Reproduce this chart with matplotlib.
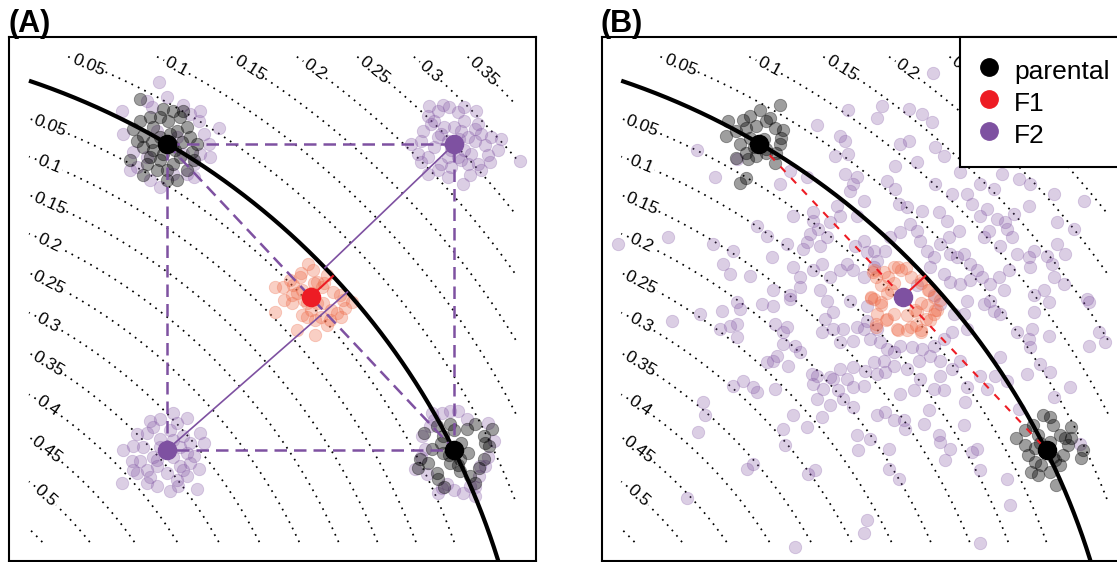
import numpy as np
import matplotlib.pyplot as plt
from matplotlib.lines import Line2D

plt.rcParams['font.family'] = ['Liberation Sans', 'DejaVu Sans']

# trait space (both traits run from 0 to 1460 in these units)
trait_max = 1460
centre = (-707, -707)      # centre of the optimum front
radius = 2211              # radius of the optimum front (black arc)
load_scale = 2150          # distance per unit of load for the contours
levels = [0.05, 0.1, 0.15, 0.2, 0.25, 0.3, 0.35, 0.4, 0.45, 0.5, 0.55]
inner_labels = [0.05, 0.1, 0.15, 0.2, 0.25, 0.3, 0.35, 0.4, 0.45, 0.5]
outer_labels = [0.05, 0.1, 0.15, 0.2, 0.25, 0.3, 0.35]

parent1 = (413, 1198)
parent2 = (1275, 277)
recomb1 = (1275, 1198)
recomb2 = (413, 277)
hybrid_mean = (844, 738)

purple = '#7E51A1'
red = '#ED1C24'

# panel A: offsets of individuals from their cluster centre
a_p1_parental = [(-80, 135), (-10, 105), (20, 100), (-100, 45), (-70, 25), (-40, 50), (-20, 80), (40, 80),
                 (60, 50), (70, 20), (90, 0), (75, -25), (40, -40), (20, -60), (-20, -50), (-50, -40),
                 (-70, -10), (-110, -50), (-70, -95), (-30, -80), (0, -110), (30, -110), (-40, -20),
                 (10, 30), (-50, 80), (5, 70), (-80, 70), (45, 5), (-20, 20), (25, -20), (-10, -30),
                 (30, 40), (-45, 5), (15, -5), (-60, -60), (60, -80), (50, 100), (-90, 10), (0, -80),
                 (80, -50)]
a_p1_f2 = [(-22, 185), (-133, 100), (-130, 30), (-45, 112), (50, 118), (70, 90), (95, 70), (155, 48),
           (125, 0), (100, -30), (80, -60), (-100, -25), (-90, -70), (-20, -130), (-50, -110), (20, -90),
           (60, -90), (30, 20), (-30, 40), (50, -30), (-60, -40), (110, 30), (80, -100), (-110, -80),
           (0, 140), (100, 100), (-60, 130), (130, -40)]
a_p2_parental = [(62, 77), (87, 42), (102, 12), (87, -28), (72, -53), (47, -78), (17, -63), (-13, -38),
                 (-53, -68), (-48, -88), (-103, -28), (-108, -53), (-68, 2), (-33, 42), (-13, 77),
                 (-53, 72), (37, 62), (112, 62), (17, -28), (-33, -8), (0, 10), (-15, -15), (20, 20),
                 (40, -10), (-40, 20), (10, -45), (-80, -40), (60, -100), (90, 20), (-30, -110), (0, 60),
                 (-90, 50)]
a_p2_f2 = [(-68, 112), (-38, 112), (-13, 117), (12, 117), (37, 92), (117, 27), (77, -48), (92, -48),
           (72, -78), (47, -108), (27, -128), (62, -138), (-23, -103), (-38, -113), (-83, -73),
           (-118, -58), (-98, 42), (-73, 72), (-88, 2), (-60, 90), (100, -20), (-100, -20), (60, -110),
           (0, -120), (-50, -130), (100, 80)]
a_r1_f2 = [(-75, 115), (-35, 118), (-15, 112), (-80, 85), (-60, 70), (-95, 40), (-100, 10), (-130, 0),
           (-110, -30), (-100, -55), (-80, -90), (-50, -80), (-20, -100), (25, -120), (45, -95),
           (80, -80), (105, -55), (100, -35), (90, -5), (110, 20), (140, 15), (130, -20), (195, -52),
           (60, 45), (65, 100), (30, 70), (10, 95), (-30, 50), (-40, 30), (20, 40), (40, 20), (50, -30),
           (-20, -40), (20, -50), (70, -60), (-60, -10), (-20, 10), (0, 0), (-10, -20), (15, 15),
           (-40, -60), (30, -20), (60, 10), (-70, 60), (0, 50), (-50, 20), (80, 30), (40, -60),
           (-10, -70), (10, -40), (-80, -40), (70, 60), (30, 110), (-50, 100)]
a_r2_f2 = [(20, 112), (60, 97), (100, 52), (110, 22), (80, -18), (95, -58), (90, -118), (60, -78),
           (35, -108), (10, -123), (-30, -108), (-60, -98), (-90, -68), (-135, -98), (-130, 0),
           (-100, 12), (-90, 47), (-50, 87), (-20, 92), (-80, -33), (-105, -33), (-60, 52), (-30, -48),
           (40, -48), (50, 42), (-20, 32), (0, 0), (20, -20), (-20, 10), (40, 10), (-40, -20), (10, 60),
           (-60, -60), (60, -10), (30, 80), (-40, 70), (70, -40), (-70, 10), (0, -70), (30, -90),
           (-50, -80), (70, 20), (-100, -60), (20, 30), (-30, -30), (50, -60)]
a_f1 = [(-7, 100), (8, 80), (48, 65), (-32, 60), (-62, 50), (-107, 30), (-82, 30), (-52, 35), (-27, 20),
        (68, 15), (88, 5), (98, -10), (123, -15), (103, -35), (78, -50), (58, -70), (48, -85), (13, -70),
        (-12, -60), (-27, -55), (-57, -20), (-57, 5), (18, 45), (33, 30), (-107, -45), (-42, -100),
        (13, -115), (38, -20), (-12, -20), (0, 10), (20, -20), (-20, -10), (40, 40), (-40, 10), (10, 40),
        (60, -40), (-30, 70), (90, -60), (-80, -10), (30, -60), (0, -40)]

# panel B
b_p1_parental = [(62, 118), (2, 103), (-28, 83), (-48, 73), (-93, 68), (-98, 23), (-68, 38), (-38, 48),
                 (-8, 53), (22, 68), (47, 48), (72, 43), (67, 18), (62, -2), (52, -27), (47, -57),
                 (22, -27), (-8, -37), (-33, -47), (-38, -27), (-58, -2), (-28, 18), (-68, -42),
                 (-38, -102), (-58, -117), (32, 78), (0, 10), (-15, -10), (15, 15), (20, -15)]
b_p2_parental = [(-11, 105), (9, 100), (-41, 75), (-66, 60), (-91, 35), (-66, 15), (-56, -15), (-36, -35),
                 (-46, -65), (-26, -75), (9, -65), (29, -105), (39, -45), (49, -15), (64, 15), (74, 35),
                 (74, 70), (104, -25), (109, 0), (39, 45), (19, 75), (-26, 45), (-36, 5), (-16, -45),
                 (24, -30), (54, 35), (0, 0), (-20, 20), (20, -20), (10, 25)]
b_f1 = [(-87, 80), (-57, 75), (-27, 90), (-7, 80), (23, 60), (53, 40), (78, 20), (93, 0), (-27, 40),
        (-67, 35), (-47, 10), (-97, 0), (-87, -6), (-67, -26), (-77, -51), (-82, -81), (-47, -66),
        (-27, -51), (-17, -96), (13, -101), (38, -86), (53, -106), (68, -66), (93, -51), (103, -41),
        (73, -26), (43, -46), (13, -56), (10, 85), (-15, 90), (-45, 60), (-80, 60), (-90, 75), (-95, -5),
        (-65, -15), (-50, -70), (-15, -100), (-80, -90), (25, -90), (55, -100), (95, -40), (110, -10),
        (75, 20), (55, 50), (-35, 20), (35, -40), (55, -20), (80, -70)]
b_f2 = [(933, 1412), (781, 1312), (681, 1299), (766, 1277), (861, 1302), (901, 1289), (931, 1265),
        (586, 1255), (656, 1222), (671, 1207), (861, 1207), (836, 1197), (941, 1187), (966, 1162),
        (641, 1162), (681, 1167), (821, 1132), (886, 1142), (1016, 1112), (1141, 1107), (1191, 1092),
        (1226, 1077), (1076, 1077), (226, 1179), (346, 1152), (281, 1097), (476, 1077), (506, 1117),
        (556, 1097), (671, 1107), (706, 1097), (696, 1077), (796, 1087), (821, 1062), (686, 1057),
        (726, 1027), (646, 1012), (831, 1017), (856, 1007), (901, 997), (941, 1077), (951, 992),
        (976, 967), (991, 1047), (1051, 1017), (1036, 1047), (1116, 1062), (1096, 1002), (1076, 982),
        (1126, 972), (1151, 962), (1176, 987), (1221, 1012), (1296, 1047), (1386, 1027), (516, 982),
        (576, 992), (656, 982), (706, 982), (576, 967), (626, 962), (591, 942), (566, 927), (616, 917),
        (556, 902), (596, 892), (546, 882), (496, 897), (436, 922), (406, 952), (276, 897), (141, 919),
        (-9, 897), (336, 877), (306, 837), (326, 805), (386, 799), (451, 857), (516, 827), (536, 797),
        (576, 817), (601, 837), (626, 797), (656, 817), (676, 837), (696, 817), (726, 797), (756, 827),
        (766, 847), (736, 872), (701, 892), (726, 907), (756, 877), (791, 877), (806, 917), (836, 932),
        (866, 957), (886, 937), (896, 907), (916, 877), (936, 857), (926, 827), (956, 897), (981, 917),
        (1011, 937), (986, 867), (1006, 857), (1026, 867), (1046, 837), (1066, 817), (1081, 797),
        (1046, 787), (1016, 777), (986, 782), (966, 807), (1086, 917), (1101, 937), (1156, 942),
        (1171, 917), (1136, 892), (1186, 867), (1221, 857), (1236, 877), (1276, 862), (1291, 837),
        (1306, 897), (1331, 867), (1356, 942), (1306, 962), (1226, 827), (1161, 817), (1131, 797),
        (1106, 777), (1146, 757), (1236, 742), (1266, 757), (1296, 797), (1326, 777), (1396, 732),
        (596, 757), (536, 767), (506, 742), (456, 757), (936, 742), (886, 772),
        (151, 666), (236, 686), (301, 696), (346, 721), (356, 701), (421, 716), (456, 711), (506, 731),
        (616, 726), (636, 691), (611, 671), (686, 726), (736, 711), (296, 641), (326, 651), (346, 656),
        (346, 616), (461, 656), (486, 631), (496, 646), (486, 596), (521, 591), (536, 571), (466, 561),
        (436, 541), (456, 546), (501, 531), (601, 631), (636, 641), (666, 641), (656, 601), (696, 606),
        (706, 646), (736, 666), (726, 641), (766, 641), (746, 611), (776, 601), (796, 581), (816, 571),
        (836, 591), (871, 586), (901, 581), (936, 591), (966, 611), (991, 631), (1036, 641), (956, 716),
        (996, 686), (1026, 686), (1036, 726), (1086, 716), (1116, 696), (1106, 726), (1136, 686),
        (1186, 631), (1231, 641), (1221, 611), (1281, 621), (1236, 691), (1281, 721), (1401, 721),
        (1431, 631), (1451, 601), (1401, 591), (1136, 556), (1216, 506), (1256, 536), (1286, 511),
        (1226, 586), (1346, 466), (1296, 436), (1191, 401), (1121, 501), (1156, 486), (1076, 501),
        (1036, 466), (1096, 461), (991, 521), (1016, 546), (956, 546), (926, 561), (891, 546),
        (856, 521), (816, 531), (786, 546), (756, 541), (731, 516), (696, 526), (656, 521), (636, 491),
        (586, 501), (571, 506), (576, 476), (606, 461), (626, 496), (676, 491), (696, 466), (726, 471),
        (766, 506), (791, 511), (836, 446), (876, 456), (896, 491), (956, 501), (966, 456), (936, 461),
        (651, 456), (666, 431), (696, 406), (626, 411), (601, 376), (586, 431), (516, 381), (484, 341),
        (556, 346), (491, 291), (461, 461), (406, 451), (396, 466), (366, 486), (336, 471), (246, 421),
        (251, 381), (231, 331), (396, 236), (376, 221), (561, 206), (581, 216), (706, 321), (711, 276),
        (746, 311), (766, 381), (791, 391), (816, 366), (846, 366), (851, 341), (906, 356), (921, 396),
        (951, 321), (956, 301), (986, 281), (1026, 351), (1031, 421), (1051, 271), (1066, 281),
        (1076, 216), (971, 246), (801, 281), (801, 221), (831, 191), (1156, 191), (1166, 111),
        (1376, 296), (736, 66), (726, 26), (521, -14), (1076, -4), (196, 134)]

dot_size = 80


def shifted(c, offsets):
    arr = np.array(offsets, dtype=float)
    return arr[:, 0] + c[0], arr[:, 1] + c[1]


def on_front(p):
    v = np.array(p, dtype=float) - centre
    q = np.array(centre) + radius * v / np.hypot(*v)
    return [p[0], q[0]], [p[1], q[1]]


def landscape(ax):
    g = np.linspace(0, trait_max, 500)
    X, Y = np.meshgrid(g, g)
    Z = np.abs(np.hypot(X - centre[0], Y - centre[1]) - radius) / load_scale
    cs = ax.contour(X, Y, Z, levels=levels, colors='black', linewidths=1.25, zorder=1)
    cs.set_linestyle((0, (1, 3.1)))
    # labels at the upper-left start of each contour
    step = 66
    pos = []
    for v in inner_labels:
        r = radius - v * load_scale
        y0 = centre[1] + np.sqrt(r ** 2 - centre[0] ** 2)
        t = np.array([y0 - centre[1], centre[0]]) / r
        pos.append((step * t[0], y0 + step * t[1]))
    for v in outer_labels:
        r = radius + v * load_scale
        x0 = centre[0] + np.sqrt(r ** 2 - (trait_max - centre[1]) ** 2)
        t = np.array([trait_max - centre[1], -(x0 - centre[0])]) / r
        pos.append((x0 + step * t[0], trait_max + step * t[1]))
    ax.clabel(cs, manual=pos, fmt='%g', fontsize=12.5, inline=True, inline_spacing=3)

    th0 = np.arccos(-centre[0] / radius)
    th1 = np.arcsin((-150 - centre[1]) / radius)
    th = np.linspace(th0, th1, 300)
    ax.plot(centre[0] + radius * np.cos(th), centre[1] + radius * np.sin(th),
            color='black', lw=3, solid_capstyle='butt', zorder=5)

    pad = 0.04 * trait_max
    ax.set_xlim(-pad, trait_max + pad)
    ax.set_ylim(-pad, trait_max + pad)
    ax.set_xticks([])
    ax.set_yticks([])
    for s in ax.spines.values():
        s.set_linewidth(1.5)


def cloud(ax, c, offsets, color, alpha, z):
    x, y = shifted(c, offsets)
    rgba = plt.matplotlib.colors.to_rgba(color, alpha)
    ax.scatter(x, y, s=dot_size, facecolor=rgba, edgecolor=rgba, linewidths=0.6, zorder=z)


fig = plt.figure(figsize=(11.17, 5.62), dpi=100)
axA = fig.add_axes([0.0085, 0.0009, 0.4711, 0.9327])
axB = fig.add_axes([0.5387, 0.0009, 0.4711, 0.9327])

# ---- panel A ----
landscape(axA)
for c, offs in [(parent1, a_p1_f2), (parent2, a_p2_f2), (recomb1, a_r1_f2), (recomb2, a_r2_f2)]:
    cloud(axA, c, offs, purple, 0.28, 2)
cloud(axA, parent1, a_p1_parental, 'black', 0.38, 3)
cloud(axA, parent2, a_p2_parental, 'black', 0.38, 3)
cloud(axA, hybrid_mean, a_f1, '#EE6A48', 0.32, 4)

dash = (0, (5, 2.8))
sq = [parent1, recomb1, parent2, recomb2, parent1]
axA.plot([p[0] for p in sq], [p[1] for p in sq], color=purple, lw=1.8, ls=dash, zorder=6)
axA.plot([parent1[0], parent2[0]], [parent1[1], parent2[1]], color=purple, lw=1.8, ls=dash, zorder=6)
for p in [recomb1, recomb2]:
    axA.plot(*on_front(p), color=purple, lw=1.2, zorder=6)
axA.plot(*on_front(hybrid_mean), color=red, lw=1.5, zorder=6)

axA.scatter(*zip(parent1, parent2), s=170, color='black', zorder=7)
axA.scatter(*zip(recomb1, recomb2), s=170, color=purple, zorder=7)
axA.scatter(*hybrid_mean, s=170, color=red, zorder=7)

# ---- panel B ----
landscape(axB)
bx, by = zip(*b_f2)
rgba = plt.matplotlib.colors.to_rgba(purple, 0.28)
axB.scatter(bx, by, s=dot_size, facecolor=rgba, edgecolor=rgba, linewidths=0.6, zorder=2)
cloud(axB, parent1, b_p1_parental, 'black', 0.38, 3)
cloud(axB, parent2, b_p2_parental, 'black', 0.38, 3)
cloud(axB, hybrid_mean, b_f1, '#EE6A48', 0.32, 4)

axB.plot([parent1[0], parent2[0]], [parent1[1], parent2[1]], color=red, lw=1.5,
         ls=(0, (3.5, 4)), zorder=6)
axB.plot(*on_front(hybrid_mean), color=red, lw=1.5, zorder=6)
axB.scatter(*zip(parent1, parent2), s=170, color='black', zorder=7)
axB.scatter(*hybrid_mean, s=170, color=purple, zorder=7)

handles = [Line2D([], [], ls='', marker='o', markersize=12.5, color=c) for c in ['black', red, purple]]
leg = axB.legend(handles, ['parental', 'F1', 'F2'], loc='upper right', borderaxespad=0,
                 fontsize=19, fancybox=False, framealpha=1, edgecolor='black',
                 handlelength=0.8, handleheight=1.32, handletextpad=0.55, borderpad=0.7,
                 labelspacing=0.1)
leg.get_frame().set_linewidth(1.5)
leg.set_zorder(10)

fig.text(0.008, 0.9436, '(A)', fontsize=22, fontweight='bold', va='baseline', ha='left')
fig.text(0.538, 0.9436, '(B)', fontsize=22, fontweight='bold', va='baseline', ha='left')

fig.savefig('out.png', dpi=100)
